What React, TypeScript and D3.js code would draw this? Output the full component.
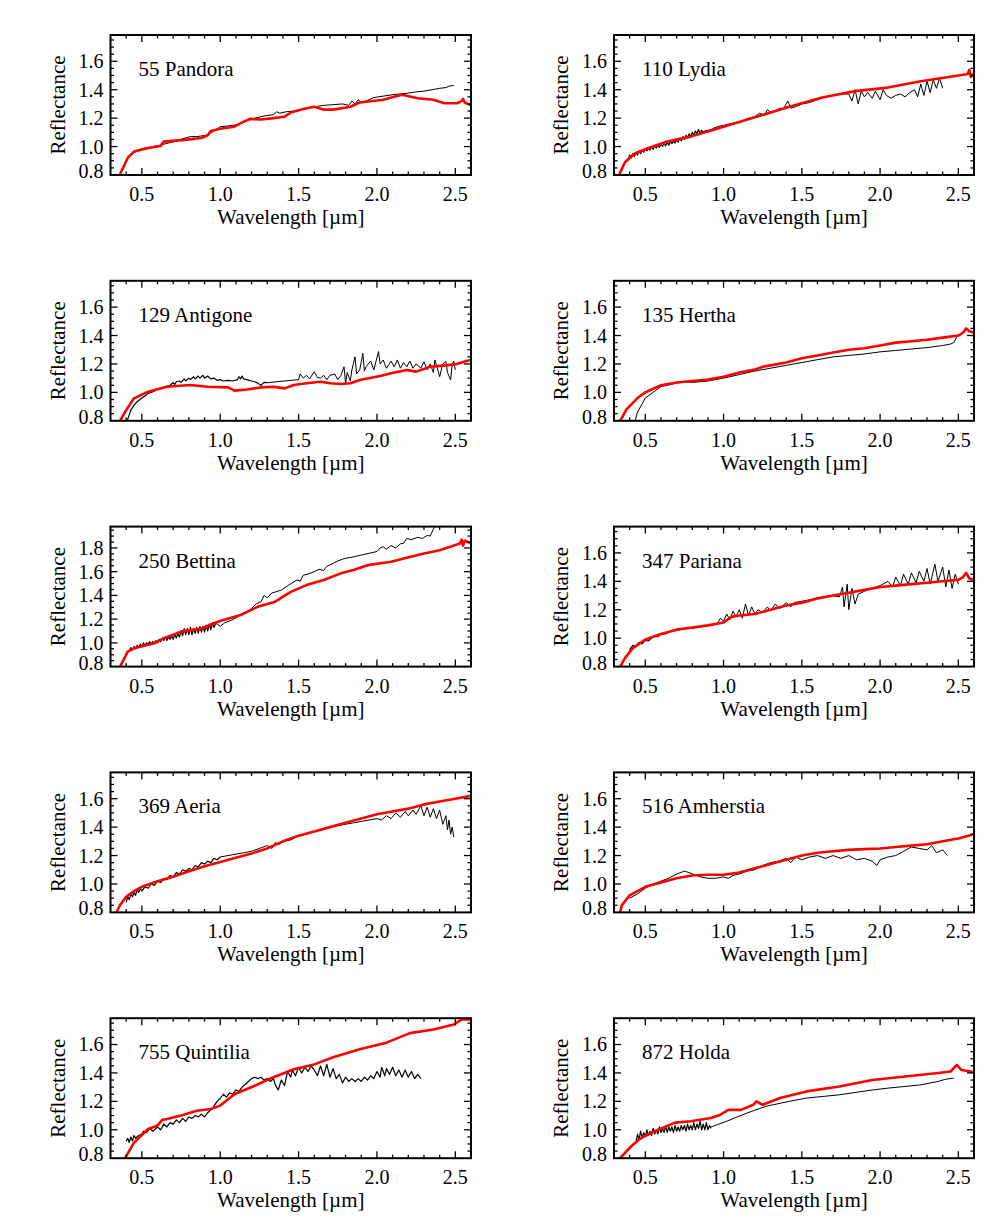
import React from 'react';
import * as d3 from 'd3';

type P = [number, number];

// ---------- 55 Pandora ----------
const pandoraThick: P[] = [];
const pandoraThin: P[] = [[0.44,0.95],[0.47,0.97],[0.5,0.985],[0.55,0.995],[0.6,1.005],[0.65,1.02],[0.71,1.035],[0.76,1.055],[0.81,1.07],[0.85,1.07],[0.88,1.075],[0.92,1.08],[0.96,1.11],[1.0,1.14],[1.05,1.145],[1.11,1.155],[1.16,1.18],[1.22,1.2],[1.28,1.215],[1.34,1.225],[1.36,1.245],[1.38,1.235],[1.42,1.245],[1.47,1.25],[1.53,1.265],[1.6,1.28],[1.66,1.29],[1.72,1.295],[1.78,1.3],[1.82,1.29],[1.84,1.32],[1.86,1.3],[1.88,1.33],[1.9,1.31],[1.94,1.325],[1.98,1.345],[2.04,1.355],[2.1,1.365],[2.19,1.375],[2.25,1.385],[2.3,1.39],[2.35,1.4],[2.4,1.41],[2.44,1.415],[2.46,1.425],[2.49,1.43]];
const pandoraModel: P[] = [[0.356,0.795],[0.41,0.92],[0.45,0.965],[0.54,0.99],[0.62,1.005],[0.64,1.035],[0.77,1.047],[0.88,1.06],[0.92,1.08],[0.94,1.11],[1.0,1.125],[1.09,1.14],[1.15,1.175],[1.19,1.195],[1.26,1.19],[1.34,1.2],[1.41,1.21],[1.45,1.24],[1.53,1.265],[1.6,1.28],[1.66,1.26],[1.72,1.26],[1.83,1.28],[1.89,1.31],[2.04,1.33],[2.11,1.35],[2.16,1.365],[2.26,1.34],[2.36,1.33],[2.43,1.305],[2.51,1.305],[2.54,1.32],[2.55,1.335],[2.56,1.31],[2.6,1.29]];

// ---------- 110 Lydia ----------
const lydiaThick: P[] = [[0.39,0.91],[0.4,0.94],[0.41,0.92],[0.42,0.95],[0.43,0.93],[0.44,0.96],[0.45,0.94],[0.46,0.97],[0.47,0.95],[0.48,0.975],[0.49,0.96],[0.5,0.985],[0.51,0.97],[0.52,0.99],[0.53,0.975],[0.54,1.0],[0.55,0.98],[0.56,1.005],[0.57,0.99],[0.58,1.01],[0.59,0.995],[0.6,1.02],[0.61,1.0],[0.62,1.025],[0.63,1.005],[0.64,1.03],[0.65,1.01],[0.66,1.035],[0.67,1.02],[0.68,1.04],[0.69,1.025],[0.7,1.05],[0.71,1.03],[0.72,1.06],[0.73,1.04],[0.74,1.07],[0.75,1.05],[0.76,1.08],[0.77,1.06],[0.78,1.09],[0.79,1.07],[0.8,1.1],[0.81,1.08],[0.82,1.11],[0.83,1.09],[0.84,1.12],[0.85,1.09],[0.86,1.115],[0.87,1.1],[0.88,1.11]];
const lydiaThin: P[] = [[0.88,1.11],[0.92,1.12],[0.96,1.14],[1.0,1.15],[1.04,1.16],[1.08,1.17],[1.12,1.18],[1.16,1.2],[1.2,1.21],[1.23,1.235],[1.26,1.22],[1.28,1.26],[1.3,1.24],[1.33,1.25],[1.36,1.27],[1.38,1.26],[1.41,1.32],[1.43,1.27],[1.46,1.28],[1.5,1.3],[1.55,1.31],[1.6,1.33],[1.65,1.35],[1.7,1.36],[1.75,1.37],[1.8,1.37],[1.82,1.32],[1.84,1.4],[1.86,1.3],[1.88,1.39],[1.9,1.35],[1.92,1.38],[1.95,1.34],[1.97,1.39],[2.0,1.33],[2.02,1.4],[2.04,1.36],[2.07,1.34],[2.1,1.36],[2.13,1.37],[2.16,1.35],[2.19,1.38],[2.22,1.4],[2.24,1.35],[2.26,1.44],[2.28,1.36],[2.3,1.46],[2.32,1.38],[2.34,1.47],[2.36,1.41],[2.38,1.48],[2.4,1.41]];
const lydiaModel: P[] = [[0.33,0.795],[0.37,0.89],[0.43,0.95],[0.52,0.99],[0.64,1.035],[0.79,1.07],[1.0,1.14],[1.21,1.21],[1.42,1.28],[1.63,1.345],[1.84,1.39],[2.05,1.415],[2.26,1.46],[2.47,1.495],[2.56,1.51],[2.57,1.54],[2.58,1.49],[2.6,1.515]];

// ---------- 129 Antigone ----------
const antigoneThick: P[] = [[0.4,0.78],[0.43,0.875],[0.45,0.91],[0.47,0.934],[0.5,0.96],[0.52,0.975],[0.54,0.993],[0.56,1.0],[0.58,1.01],[0.6,1.02],[0.62,1.028],[0.64,1.035],[0.66,1.045],[0.68,1.05],[0.7,1.07],[0.71,1.055],[0.72,1.075],[0.74,1.08],[0.75,1.07],[0.77,1.095],[0.78,1.08],[0.8,1.1],[0.81,1.09],[0.83,1.11],[0.84,1.095],[0.86,1.115],[0.87,1.1],[0.89,1.12],[0.9,1.1],[0.92,1.115],[0.94,1.095],[0.96,1.1],[0.98,1.085],[1.0,1.09],[1.02,1.08],[1.05,1.085],[1.08,1.08],[1.11,1.09],[1.12,1.11],[1.13,1.095],[1.14,1.115],[1.15,1.095],[1.17,1.09],[1.2,1.08],[1.22,1.075],[1.24,1.065],[1.26,1.05],[1.28,1.07],[1.3,1.068]];
const antigoneThin: P[] = [[1.3,1.068],[1.5,1.09],[1.51,1.13],[1.53,1.1],[1.55,1.12],[1.57,1.095],[1.6,1.145],[1.62,1.105],[1.64,1.1],[1.66,1.12],[1.68,1.09],[1.7,1.12],[1.73,1.13],[1.75,1.09],[1.77,1.12],[1.79,1.18],[1.8,1.06],[1.81,1.14],[1.83,1.08],[1.84,1.158],[1.86,1.25],[1.87,1.13],[1.89,1.158],[1.91,1.275],[1.92,1.15],[1.93,1.18],[1.96,1.22],[1.98,1.158],[2.01,1.287],[2.02,1.2],[2.04,1.228],[2.06,1.17],[2.09,1.22],[2.11,1.18],[2.13,1.228],[2.15,1.17],[2.17,1.21],[2.19,1.18],[2.21,1.22],[2.23,1.17],[2.25,1.2],[2.28,1.17],[2.3,1.216],[2.32,1.16],[2.34,1.2],[2.36,1.14],[2.37,1.228],[2.39,1.15],[2.4,1.11],[2.42,1.2],[2.44,1.216],[2.45,1.14],[2.47,1.087],[2.48,1.2],[2.49,1.22],[2.5,1.158]];
const antigoneModel: P[] = [[0.356,0.79],[0.4,0.875],[0.45,0.958],[0.54,1.005],[0.66,1.04],[0.81,1.052],[0.92,1.04],[1.05,1.035],[1.09,1.012],[1.17,1.02],[1.26,1.035],[1.34,1.04],[1.41,1.028],[1.47,1.052],[1.55,1.064],[1.64,1.075],[1.7,1.064],[1.77,1.059],[1.83,1.064],[1.89,1.087],[1.98,1.106],[2.02,1.115],[2.11,1.14],[2.19,1.158],[2.25,1.146],[2.34,1.18],[2.44,1.19],[2.51,1.2],[2.57,1.22],[2.6,1.228]];

// ---------- 135 Hertha ----------
const herthaThick: P[] = [];
const herthaThin: P[] = [[0.43,0.78],[0.45,0.86],[0.48,0.92],[0.5,0.96],[0.55,1.0],[0.6,1.04],[0.7,1.065],[0.75,1.075],[0.8,1.07],[0.9,1.08],[1.0,1.1],[1.1,1.125],[1.2,1.15],[1.3,1.17],[1.4,1.19],[1.5,1.21],[1.6,1.23],[1.7,1.25],[1.8,1.26],[1.9,1.27],[2.0,1.285],[2.1,1.295],[2.2,1.305],[2.3,1.315],[2.4,1.33],[2.45,1.34],[2.47,1.35],[2.49,1.39],[2.5,1.4]];
const herthaModel: P[] = [[0.33,0.78],[0.38,0.88],[0.45,0.96],[0.5,1.0],[0.6,1.05],[0.7,1.07],[0.8,1.08],[0.9,1.09],[1.0,1.11],[1.1,1.14],[1.2,1.16],[1.25,1.18],[1.3,1.19],[1.4,1.21],[1.5,1.24],[1.6,1.26],[1.7,1.28],[1.8,1.3],[1.9,1.31],[2.0,1.33],[2.1,1.35],[2.2,1.36],[2.3,1.37],[2.4,1.385],[2.5,1.4],[2.53,1.42],[2.55,1.45],[2.57,1.43],[2.6,1.42]];

// ---------- 250 Bettina ----------
const bettinaThick: P[] = [[0.42,0.93],[0.43,0.96],[0.44,0.94],[0.45,0.97],[0.46,0.95],[0.47,0.98],[0.48,0.96],[0.49,0.99],[0.5,0.97],[0.51,1.0],[0.52,0.98],[0.53,1.0],[0.54,0.99],[0.55,1.01],[0.56,0.99],[0.57,1.01],[0.58,1.0],[0.59,1.02],[0.6,1.0],[0.61,1.03],[0.62,1.01],[0.63,1.04],[0.64,1.02],[0.65,1.05],[0.66,1.02],[0.67,1.05],[0.68,1.03],[0.69,1.06],[0.7,1.03],[0.71,1.07],[0.72,1.04],[0.73,1.08],[0.74,1.05],[0.75,1.1],[0.76,1.06],[0.77,1.12],[0.78,1.07],[0.79,1.12],[0.8,1.07],[0.81,1.13],[0.82,1.07],[0.83,1.12],[0.84,1.08],[0.85,1.13],[0.86,1.08],[0.87,1.14],[0.88,1.09],[0.89,1.14],[0.9,1.09],[0.91,1.15],[0.92,1.1],[0.93,1.16],[0.94,1.11],[0.95,1.17],[0.96,1.13],[0.97,1.16]];
const bettinaThin: P[] = [[0.97,1.16],[0.98,1.16],[1.0,1.14],[1.03,1.17],[1.07,1.19],[1.1,1.21],[1.13,1.235],[1.16,1.25],[1.2,1.29],[1.23,1.33],[1.26,1.347],[1.28,1.4],[1.3,1.38],[1.33,1.42],[1.39,1.445],[1.44,1.49],[1.49,1.53],[1.51,1.52],[1.53,1.57],[1.56,1.58],[1.6,1.6],[1.63,1.62],[1.66,1.61],[1.68,1.645],[1.72,1.67],[1.75,1.69],[1.79,1.71],[1.85,1.725],[1.9,1.74],[1.95,1.755],[2.0,1.77],[2.02,1.8],[2.04,1.81],[2.06,1.79],[2.09,1.82],[2.12,1.8],[2.15,1.835],[2.17,1.84],[2.19,1.88],[2.22,1.87],[2.26,1.89],[2.29,1.88],[2.32,1.905],[2.34,1.9],[2.36,1.96],[2.38,1.99]];
const bettinaModel: P[] = [[0.356,0.786],[0.41,0.926],[0.45,0.954],[0.58,0.996],[0.64,1.04],[0.75,1.095],[0.88,1.12],[0.96,1.165],[1.0,1.184],[1.13,1.235],[1.24,1.305],[1.35,1.347],[1.45,1.43],[1.55,1.487],[1.66,1.53],[1.77,1.586],[1.85,1.614],[1.94,1.655],[2.09,1.684],[2.19,1.717],[2.3,1.754],[2.4,1.78],[2.53,1.837],[2.54,1.87],[2.55,1.82],[2.56,1.86],[2.6,1.84]];

// ---------- 347 Pariana ----------
const parianaThick: P[] = [[0.4,0.92],[0.42,0.95],[0.44,0.94],[0.46,0.97],[0.48,0.96],[0.5,0.985],[0.52,0.98],[0.55,1.01],[0.58,1.01],[0.6,1.03],[0.63,1.03],[0.66,1.05],[0.7,1.055],[0.74,1.065],[0.8,1.07],[0.85,1.08],[0.9,1.09],[0.96,1.1]];
const parianaThin: P[] = [[0.96,1.1],[0.98,1.14],[1.0,1.12],[1.02,1.17],[1.04,1.13],[1.06,1.19],[1.08,1.15],[1.1,1.2],[1.12,1.14],[1.14,1.24],[1.16,1.16],[1.18,1.22],[1.2,1.17],[1.22,1.2],[1.25,1.18],[1.28,1.22],[1.3,1.19],[1.33,1.24],[1.36,1.21],[1.4,1.25],[1.43,1.22],[1.45,1.25],[1.5,1.26],[1.55,1.27],[1.6,1.28],[1.65,1.29],[1.7,1.3],[1.74,1.29],[1.76,1.36],[1.77,1.22],[1.79,1.38],[1.8,1.2],[1.82,1.35],[1.84,1.24],[1.86,1.31],[1.9,1.33],[1.95,1.35],[2.0,1.37],[2.05,1.4],[2.08,1.36],[2.1,1.43],[2.13,1.37],[2.15,1.45],[2.18,1.38],[2.2,1.46],[2.23,1.39],[2.25,1.47],[2.28,1.4],[2.3,1.49],[2.32,1.38],[2.35,1.52],[2.37,1.4],[2.4,1.5],[2.42,1.36],[2.44,1.48],[2.46,1.35],[2.48,1.45],[2.5,1.38]];
const parianaModel: P[] = [[0.33,0.78],[0.37,0.86],[0.42,0.93],[0.5,0.99],[0.6,1.03],[0.7,1.06],[0.8,1.075],[0.9,1.09],[1.0,1.11],[1.05,1.15],[1.1,1.16],[1.2,1.17],[1.3,1.2],[1.4,1.23],[1.5,1.25],[1.6,1.28],[1.7,1.3],[1.8,1.32],[1.9,1.34],[2.0,1.36],[2.1,1.37],[2.2,1.38],[2.3,1.39],[2.4,1.4],[2.5,1.41],[2.53,1.43],[2.55,1.46],[2.57,1.42],[2.6,1.41]];

// ---------- 369 Aeria ----------
const aeriaThick: P[] = [[0.4,0.87],[0.41,0.91],[0.42,0.89],[0.43,0.93],[0.44,0.91],[0.45,0.94],[0.46,0.92],[0.47,0.96],[0.48,0.94],[0.49,0.97],[0.5,0.95],[0.52,0.98],[0.54,0.97],[0.56,1.0],[0.58,0.99],[0.6,1.02],[0.62,1.01],[0.64,1.04],[0.66,1.03],[0.68,1.06],[0.7,1.05],[0.72,1.08],[0.74,1.07],[0.76,1.1],[0.78,1.09],[0.8,1.11],[0.82,1.1],[0.84,1.13],[0.86,1.12],[0.88,1.15],[0.9,1.14],[0.92,1.16],[0.94,1.15],[0.96,1.18],[0.98,1.17],[1.0,1.19]];
const aeriaThin: P[] = [[1.0,1.19],[1.05,1.2],[1.1,1.21],[1.15,1.22],[1.2,1.23],[1.25,1.25],[1.3,1.27],[1.33,1.25],[1.35,1.29],[1.38,1.28],[1.4,1.3],[1.45,1.31],[1.5,1.34],[1.55,1.35],[1.6,1.37],[1.65,1.38],[1.7,1.4],[1.75,1.41],[1.8,1.42],[1.85,1.43],[1.9,1.44],[1.95,1.45],[2.0,1.46],[2.03,1.45],[2.06,1.48],[2.09,1.46],[2.12,1.5],[2.15,1.47],[2.18,1.51],[2.2,1.48],[2.23,1.52],[2.25,1.49],[2.28,1.55],[2.3,1.48],[2.32,1.54],[2.34,1.47],[2.36,1.53],[2.38,1.46],[2.4,1.52],[2.42,1.42],[2.44,1.48],[2.45,1.38],[2.46,1.45],[2.47,1.35],[2.48,1.4],[2.49,1.33]];
const aeriaModel: P[] = [[0.33,0.78],[0.36,0.85],[0.4,0.91],[0.45,0.95],[0.5,0.98],[0.6,1.02],[0.7,1.05],[0.8,1.09],[0.9,1.125],[1.0,1.155],[1.1,1.185],[1.2,1.215],[1.3,1.25],[1.4,1.3],[1.5,1.34],[1.6,1.37],[1.7,1.4],[1.8,1.43],[1.9,1.46],[2.0,1.49],[2.1,1.51],[2.2,1.53],[2.3,1.56],[2.4,1.58],[2.5,1.6],[2.6,1.62]];

// ---------- 516 Amherstia ----------
const amherstiaThick: P[] = [];
const amherstiaThin: P[] = [[0.4,0.9],[0.45,0.93],[0.5,0.97],[0.55,1.0],[0.6,1.02],[0.65,1.04],[0.7,1.07],[0.75,1.09],[0.78,1.08],[0.85,1.05],[0.9,1.04],[0.95,1.04],[1.0,1.05],[1.03,1.04],[1.06,1.06],[1.1,1.07],[1.15,1.09],[1.2,1.1],[1.25,1.13],[1.3,1.15],[1.35,1.16],[1.4,1.18],[1.43,1.15],[1.46,1.19],[1.5,1.17],[1.55,1.19],[1.6,1.2],[1.65,1.18],[1.7,1.2],[1.75,1.18],[1.8,1.2],[1.85,1.17],[1.9,1.18],[1.95,1.16],[1.98,1.13],[2.0,1.17],[2.05,1.19],[2.1,1.2],[2.15,1.23],[2.2,1.26],[2.25,1.25],[2.3,1.24],[2.33,1.27],[2.36,1.22],[2.4,1.24],[2.43,1.2]];
const amherstiaModel: P[] = [[0.33,0.76],[0.35,0.85],[0.4,0.92],[0.45,0.95],[0.5,0.98],[0.6,1.01],[0.7,1.04],[0.8,1.06],[0.9,1.065],[1.0,1.065],[1.1,1.08],[1.2,1.11],[1.3,1.14],[1.4,1.17],[1.5,1.2],[1.6,1.22],[1.7,1.23],[1.8,1.24],[1.9,1.245],[2.0,1.25],[2.1,1.26],[2.2,1.27],[2.3,1.28],[2.4,1.3],[2.5,1.32],[2.6,1.35]];

// ---------- 755 Quintilia ----------
const quintiliaThick: P[] = [[0.4,0.92],[0.41,0.94],[0.42,0.91],[0.43,0.95],[0.44,0.92],[0.45,0.96],[0.46,0.94],[0.48,0.96],[0.5,0.97],[0.51,0.99],[0.53,0.98],[0.55,1.01],[0.57,0.99],[0.6,1.02],[0.62,1.0],[0.64,1.04],[0.66,1.02],[0.68,1.05],[0.7,1.04],[0.72,1.07],[0.74,1.05],[0.76,1.08],[0.78,1.06],[0.8,1.09],[0.82,1.08],[0.84,1.1],[0.86,1.09],[0.88,1.11],[0.9,1.09],[0.92,1.12],[0.95,1.15],[0.98,1.2],[1.0,1.22],[1.02,1.25],[1.04,1.23],[1.06,1.26],[1.08,1.25],[1.1,1.28],[1.12,1.27],[1.14,1.3],[1.16,1.32],[1.18,1.34],[1.2,1.36],[1.22,1.37],[1.24,1.36],[1.26,1.37],[1.28,1.35],[1.3,1.36],[1.32,1.34],[1.34,1.36],[1.35,1.32],[1.37,1.28],[1.39,1.35],[1.41,1.31],[1.43,1.41],[1.45,1.37],[1.46,1.42],[1.48,1.38],[1.5,1.44],[1.52,1.4],[1.54,1.44],[1.56,1.41],[1.58,1.45],[1.6,1.42],[1.62,1.38],[1.64,1.45],[1.66,1.38],[1.68,1.46],[1.7,1.37],[1.72,1.43],[1.74,1.36],[1.76,1.39],[1.78,1.33],[1.8,1.37],[1.82,1.34],[1.84,1.36],[1.86,1.34],[1.88,1.36],[1.9,1.34],[1.92,1.37],[1.94,1.35],[1.96,1.38],[1.98,1.36],[2.0,1.41],[2.02,1.37],[2.03,1.44],[2.05,1.38],[2.06,1.43],[2.08,1.39],[2.1,1.44],[2.12,1.38],[2.14,1.42],[2.16,1.37],[2.18,1.42],[2.2,1.37],[2.22,1.41],[2.24,1.36],[2.26,1.39],[2.28,1.36]];
const quintiliaThin: P[] = [];
const quintiliaModel: P[] = [[0.39,0.795],[0.45,0.91],[0.54,1.005],[0.6,1.03],[0.63,1.07],[0.66,1.075],[0.75,1.1],[0.85,1.134],[0.94,1.146],[1.0,1.17],[1.09,1.25],[1.22,1.31],[1.34,1.37],[1.47,1.426],[1.6,1.46],[1.72,1.51],[1.89,1.566],[2.06,1.613],[2.21,1.68],[2.36,1.706],[2.49,1.74],[2.54,1.777],[2.6,1.777]];

// ---------- 872 Holda ----------
const holdaThick: P[] = [[0.44,0.91],[0.45,0.97],[0.46,0.93],[0.47,0.99],[0.48,0.94],[0.49,0.98],[0.5,0.95],[0.51,1.0],[0.52,0.96],[0.53,0.99],[0.54,0.96],[0.55,1.01],[0.56,0.97],[0.57,1.0],[0.58,0.97],[0.59,1.02],[0.6,0.98],[0.61,1.01],[0.62,0.98],[0.63,1.03],[0.64,0.98],[0.65,1.02],[0.66,0.99],[0.67,1.02],[0.68,0.98],[0.69,1.03],[0.7,0.99],[0.71,1.02],[0.72,0.99],[0.73,1.03],[0.74,1.0],[0.75,1.03],[0.76,0.99],[0.77,1.04],[0.78,1.0],[0.79,1.03],[0.8,1.0],[0.81,1.05],[0.82,1.0],[0.83,1.04],[0.84,1.01],[0.85,1.06],[0.86,1.0],[0.87,1.04],[0.88,1.0],[0.89,1.05],[0.9,1.0],[0.91,1.03],[0.92,1.01]];
const holdaThin: P[] = [[0.92,1.02],[0.96,1.036],[1.02,1.06],[1.15,1.118],[1.27,1.165],[1.42,1.2],[1.53,1.223],[1.74,1.246],[1.95,1.28],[2.05,1.293],[2.16,1.305],[2.26,1.316],[2.37,1.34],[2.42,1.356],[2.47,1.363]];
const holdaModel: P[] = [[0.33,0.79],[0.41,0.884],[0.47,0.94],[0.56,0.99],[0.69,1.05],[0.79,1.06],[0.92,1.083],[0.98,1.106],[1.03,1.14],[1.11,1.14],[1.19,1.176],[1.21,1.2],[1.25,1.176],[1.36,1.223],[1.53,1.27],[1.74,1.305],[1.95,1.35],[2.16,1.375],[2.37,1.4],[2.45,1.41],[2.49,1.456],[2.52,1.42],[2.58,1.41],[2.6,1.405]];

const panelNames = ['55 Pandora', '110 Lydia', '129 Antigone', '135 Hertha', '250 Bettina', '347 Pariana', '369 Aeria', '516 Amherstia', '755 Quintilia', '872 Holda'];
const panelYMax = [1.785, 1.785, 1.785, 1.785, 1.98, 1.785, 1.785, 1.785, 1.785, 1.785];
const panelThick = [pandoraThick, lydiaThick, antigoneThick, herthaThick, bettinaThick, parianaThick, aeriaThick, amherstiaThick, quintiliaThick, holdaThick];
const panelThin = [pandoraThin, lydiaThin, antigoneThin, herthaThin, bettinaThin, parianaThin, aeriaThin, amherstiaThin, quintiliaThin, holdaThin];
const panelModel = [pandoraModel, lydiaModel, antigoneModel, herthaModel, bettinaModel, parianaModel, aeriaModel, amherstiaModel, quintiliaModel, holdaModel];

const X_DOMAIN: [number, number] = [0.3, 2.6];
const COL_X = [110.5, 614];
const COL_W = [360.5, 360];
const ROW_Y = [35, 280.8, 526.6, 772.4, 1018.2];
const BOX_H = 140;
const FONT = '"Liberation Serif", "Times New Roman", Times, serif';
const FS = 21;
const FS_TICK = 20;

function Panel({ idx }: { idx: number }) {
  const col = idx % 2;
  const row = Math.floor(idx / 2);
  const x0 = COL_X[col];
  const x1 = x0 + COL_W[col];
  const y0 = ROW_Y[row];
  const y1 = y0 + BOX_H;
  const yMax = panelYMax[idx];
  const xs = d3.scaleLinear().domain(X_DOMAIN).range([x0, x1]);
  const ys = d3.scaleLinear().domain([0.8, yMax]).range([y1, y0]);
  const line = d3.line<P>().x((d) => xs(d[0])).y((d) => ys(d[1]));
  const clipId = `clip-${idx}`;

  const xTicks = d3.range(4, 26).map((i) => ({ v: i / 10, major: i % 5 === 0 }));
  const yN = Math.floor(yMax / 0.05 + 1e-6);
  const yTicks = d3.range(17, yN + 1).map((i) => ({ v: i * 0.05, major: i % 4 === 0 }));
  const yLabels = d3.range(4, Math.floor(yMax / 0.2 + 1e-6) + 1).map((i) => i * 0.2);
  const fmt = d3.format('.1f');
  const MAJ = 7;
  const MIN = 3.5;

  return (
    <g>
      <defs>
        <clipPath id={clipId}>
          <rect x={x0} y={y0} width={x1 - x0} height={y1 - y0} />
        </clipPath>
      </defs>
      <g clipPath={`url(#${clipId})`} fill="none" strokeLinejoin="round">
        {panelThick[idx].length > 0 && (
          <path d={line(panelThick[idx]) || ''} stroke="#000" strokeWidth={1.2} />
        )}
        {panelThin[idx].length > 0 && (
          <path d={line(panelThin[idx]) || ''} stroke="#000" strokeWidth={1} />
        )}
        <path d={line(panelModel[idx]) || ''} stroke="#ff0000" strokeWidth={2.6} />
      </g>
      {xTicks.map((t) => (
        <g key={'x' + t.v}>
          <line x1={xs(t.v)} x2={xs(t.v)} y1={y1} y2={y1 - (t.major ? MAJ : MIN)} stroke="#000" strokeWidth={1.3} />
          <line x1={xs(t.v)} x2={xs(t.v)} y1={y0} y2={y0 + (t.major ? MAJ : MIN)} stroke="#000" strokeWidth={1.3} />
        </g>
      ))}
      {yTicks.map((t) => (
        <g key={'y' + t.v}>
          <line x1={x0} x2={x0 + (t.major ? MAJ : MIN)} y1={ys(t.v)} y2={ys(t.v)} stroke="#000" strokeWidth={1.3} />
          <line x1={x1} x2={x1 - (t.major ? MAJ : MIN)} y1={ys(t.v)} y2={ys(t.v)} stroke="#000" strokeWidth={1.3} />
        </g>
      ))}
      <rect x={x0} y={y0} width={x1 - x0} height={y1 - y0} fill="none" stroke="#000" strokeWidth={2} />
      {xTicks.filter((t) => t.major).map((t) => (
        <text key={'xl' + t.v} x={xs(t.v)} y={y1 + 26} textAnchor="middle" fontFamily={FONT} fontSize={FS_TICK}>
          {fmt(t.v)}
        </text>
      ))}
      {yLabels.map((v) => (
        <text key={'yl' + v} x={x0 - 7} y={Math.min(ys(v) + 7, y1 + 3)} textAnchor="end" fontFamily={FONT} fontSize={FS_TICK}>
          {fmt(v)}
        </text>
      ))}
      <text x={(x0 + x1) / 2} y={y1 + 49} textAnchor="middle" fontFamily={FONT} fontSize={FS}>
        Wavelength [µm]
      </text>
      <text
        transform={`translate(${x0 - 46},${(y0 + y1) / 2}) rotate(-90)`}
        textAnchor="middle"
        fontFamily={FONT}
        fontSize={FS}
      >
        Reflectance
      </text>
      <text x={x0 + 28} y={y0 + 41} fontFamily={FONT} fontSize={FS}>
        {panelNames[idx]}
      </text>
    </g>
  );
}

export default function App() {
  return (
    <svg
      width={1008}
      height={1229}
      viewBox="0 0 1008 1229"
      style={{ position: 'absolute', left: 0, top: 0, background: '#fff' }}
    >
      <rect x={0} y={0} width={1008} height={1229} fill="#fff" />
      {panelNames.map((_, i) => (
        <Panel key={i} idx={i} />
      ))}
    </svg>
  );
}
